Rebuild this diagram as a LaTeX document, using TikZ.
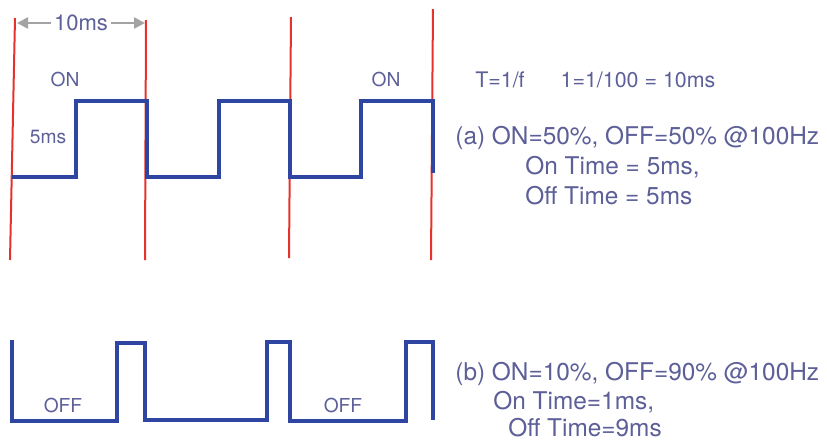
\documentclass[tikz,border=0pt]{standalone}
\usepackage{fontspec}
\setmainfont{TeX Gyre Heros}
\usepackage{xcolor}
\usepackage{tikz}
\usetikzlibrary{arrows.meta}
\definecolor{waveBlue}{HTML}{2E45A2}
\definecolor{markRed}{HTML}{E5322B}
\definecolor{labelInk}{HTML}{5C5F98}
\definecolor{arrowGray}{HTML}{A3A3A3}

\begin{document}
\begin{tikzpicture}[x=0.5pt, y=-0.5pt, >={Triangle[length=5.5pt,width=5.5pt]},
    wave/.style={line width=2pt, draw=waveBlue, line join=miter},
    period/.style={line width=1pt, draw=markRed},
    small/.style={text=labelInk, font=\fontsize{9.6}{11}\selectfont, inner sep=1pt},
    big/.style={text=labelInk, font=\fontsize{12.2}{14}\selectfont, anchor=west, inner sep=0pt}]
    \useasboundingbox (0,0) rectangle (827,441);
    % period markers
    \draw[period] (15,18) -- (10,260);
    \draw[period] (146,20) -- (145,260);
    \draw[period] (291,17) -- (289,258);
    \draw[period] (433,9) -- (431,260);
    % 50% duty cycle
    \draw[wave] (12,177) -- (76,177) -- (76,101) -- (147,101) -- (147,177) -- (219,177)
        -- (219,101) -- (290,101) -- (290,177) -- (361,177) -- (361,101) -- (433,101) -- (433,173);
    % period arrow
    \coordinate (perL) at (17,23);
    \coordinate (perR) at (145,23);
    \draw[<->, line width=1.2pt, draw=arrowGray] (perL) -- (perR)
        node[midway, fill=white, text=labelInk, font=\fontsize{11}{13}\selectfont, inner sep=1.5pt] (per) {10ms};
    \node[small] (on1) at (65,79) {ON};
    \node[small] (half) at (48,137) {5ms};
    \node[small] (on2) at (386,79) {ON};
    \node[small, font=\fontsize{10.7}{13}\selectfont] (tf) at (500,80) {T=1/f};
    \node[small, font=\fontsize{10.7}{13}\selectfont] (tval) at (638,80) {1=1/100 = 10ms};
    \node[big] (capA) at (455,138) {(a) ON=50\%, OFF=50\% @100Hz};
    \node[big] (onA) at (525,167) {On Time = 5ms,};
    \node[big] (offA) at (525,196) {Off Time = 5ms};
    % 10% duty cycle
    \draw[wave] (12,340) -- (12,421) -- (117,421) -- (117,343) -- (145,343) -- (145,420) -- (267,420)
        -- (267,342) -- (290,342) -- (290,421) -- (406,421) -- (406,342) -- (433,342) -- (433,420);
    \node[small] (off1) at (63,405) {OFF};
    \node[small] (off2) at (343,405) {OFF};
    \node[big] (capB) at (455,374) {(b) ON=10\%, OFF=90\% @100Hz};
    \node[big] (onB) at (493,402) {On Time=1ms,};
    \node[big] (offB) at (508,428) {Off Time=9ms};
\end{tikzpicture}
\end{document}
